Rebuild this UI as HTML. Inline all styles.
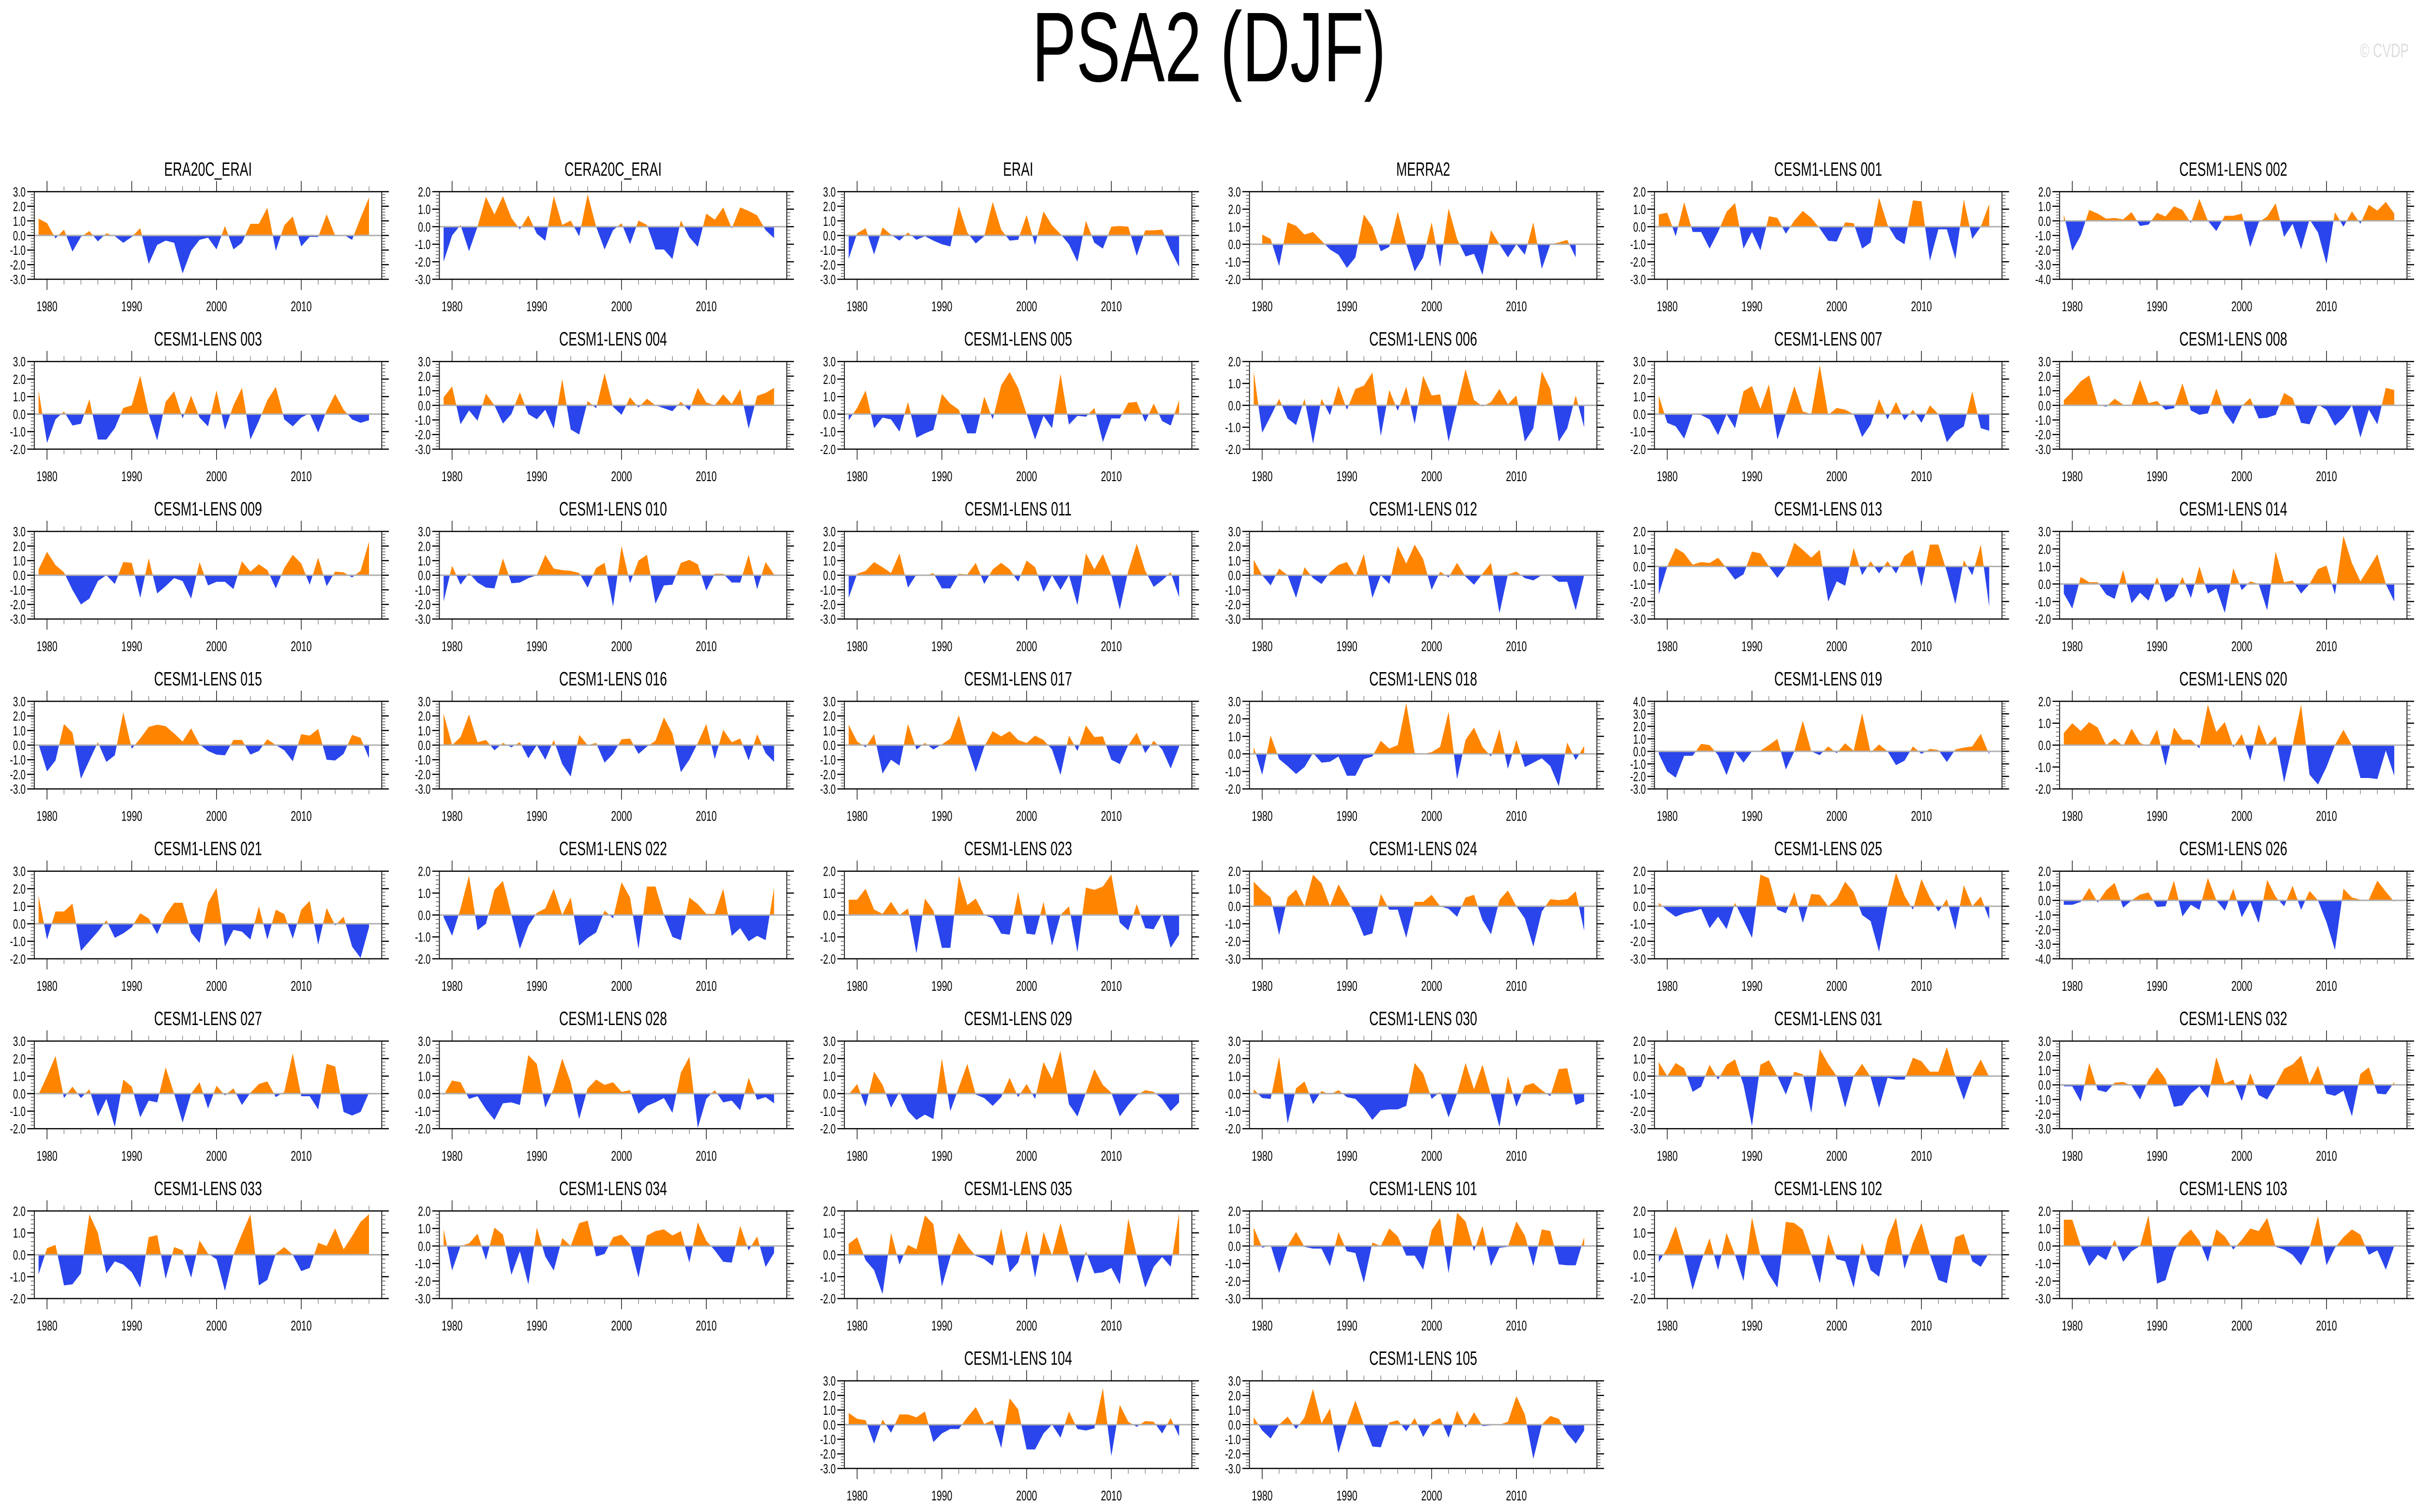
<!DOCTYPE html>
<html><head><meta charset="utf-8"><title>PSA2 (DJF)</title>
<style>
html,body{margin:0;padding:0;background:#fff;overflow:hidden;}
svg{display:block;font-family:"Liberation Sans",Arial,sans-serif;width:100vw;height:62.54vw;}
</style></head>
<body>
<svg id="chart" xmlns="http://www.w3.org/2000/svg" viewBox="0 0 7468 3124" preserveAspectRatio="none">
<rect x="0" y="0" width="7468" height="3124" fill="#fff"/>
<text x="3734" y="168" text-anchor="middle" font-size="205" fill="#000">PSA2 (DJF)</text>
<text x="7440" y="118" text-anchor="end" font-size="40" fill="#dddddd">© CVDP</text>
<g id="panels"></g>
</svg>
<script>
const panelTitles = ["ERA20C_ERAI","CERA20C_ERAI","ERAI","MERRA2","CESM1-LENS 001","CESM1-LENS 002",
"CESM1-LENS 003","CESM1-LENS 004","CESM1-LENS 005","CESM1-LENS 006","CESM1-LENS 007","CESM1-LENS 008",
"CESM1-LENS 009","CESM1-LENS 010","CESM1-LENS 011","CESM1-LENS 012","CESM1-LENS 013","CESM1-LENS 014",
"CESM1-LENS 015","CESM1-LENS 016","CESM1-LENS 017","CESM1-LENS 018","CESM1-LENS 019","CESM1-LENS 020",
"CESM1-LENS 021","CESM1-LENS 022","CESM1-LENS 023","CESM1-LENS 024","CESM1-LENS 025","CESM1-LENS 026",
"CESM1-LENS 027","CESM1-LENS 028","CESM1-LENS 029","CESM1-LENS 030","CESM1-LENS 031","CESM1-LENS 032",
"CESM1-LENS 033","CESM1-LENS 034","CESM1-LENS 035","CESM1-LENS 101","CESM1-LENS 102","CESM1-LENS 103",
"CESM1-LENS 104","CESM1-LENS 105"];
const yMins = [-3,-3,-3,-2,-3,-4, -2,-3,-2,-2,-2,-3, -3,-3,-3,-3,-3,-2, -3,-3,-3,-2,-3,-2, -2,-2,-2,-3,-3,-4, -2,-2,-2,-2,-3,-3, -2,-3,-2,-3,-2,-3, -3,-3];
const yMaxs = [3,2,3,3,2,2, 3,3,3,2,3,3, 3,3,3,3,2,3, 3,3,3,3,4,2, 3,2,2,2,2,2, 3,3,3,3,2,3, 2,2,2,2,2,2, 3,3];
const startYears = [1979,1979,1979,1980,1979,1979, 1979,1979,1979,1979,1979,1979, 1979,1979,1979,1979,1979,1979, 1979,1979,1979,1979,1979,1979, 1979,1979,1979,1979,1979,1979, 1979,1979,1979,1979,1979,1979, 1979,1979,1979,1979,1979,1979, 1979,1979];
const xTickYears = [1980,1990,2000,2010];

const vEra20c = [1.15,0.85,-0.2,0.4,-1.1,-0.1,0.3,-0.4,0.15,-0.05,-0.5,-0.1,0.5,-1.95,-0.65,-0.35,-0.5,-2.6,-1.05,-0.3,-0.15,-0.95,0.65,-0.95,-0.5,0.8,0.8,1.9,-1.05,0.7,1.3,-0.75,-0.1,-0.1,1.45,0.0,0.05,-0.3,1.2,2.6];
const vCera20c = [-2.0,-0.5,0.1,-1.4,0.0,1.7,0.7,1.75,0.5,-0.15,0.65,-0.4,-0.8,1.75,0.1,0.35,-0.55,1.85,0.0,-1.3,-0.2,0.2,-1.0,0.35,0.1,-1.3,-1.3,-1.85,0.35,-0.6,-1.15,0.75,0.4,1.1,-0.1,1.1,0.9,0.65,-0.2,-0.65];
const vErai = [-1.6,0.15,0.5,-1.3,0.55,0.05,-0.35,0.2,-0.3,-0.05,-0.35,-0.6,-0.75,2.0,0.2,-0.55,-0.05,2.3,0.4,-0.35,-0.3,1.4,-0.65,1.65,0.7,0.1,-0.6,-1.8,1.0,-0.5,-0.9,0.6,0.65,0.6,-1.4,0.35,0.35,0.4,-1.0,-2.15];
const vMerra2 = [0.55,0.3,-1.25,1.25,1.05,0.55,0.7,0.2,-0.3,-0.6,-1.35,-0.75,1.7,1.0,-0.4,-0.15,1.85,0.0,-1.55,-0.75,1.25,-1.3,2.05,0.3,-0.7,-0.55,-1.75,0.8,0.0,-0.75,0.0,-0.6,1.25,-1.4,0.0,0.1,0.25,-0.75];
const v001 = [0.7,0.8,-0.55,1.4,-0.3,-0.3,-1.25,-0.3,0.85,1.35,-1.25,-0.3,-1.35,0.6,0.5,-0.4,0.35,0.9,0.5,-0.1,-0.8,-0.85,0.25,0.2,-1.25,-0.9,1.65,0.1,-0.7,-1.0,1.5,1.45,-1.95,-0.15,-0.15,-1.85,1.55,-0.7,0.0,1.3];
const v002 = [0.45,-2.05,-1.0,0.75,0.5,0.15,0.2,0.1,0.6,-0.35,-0.25,0.55,0.3,1.0,0.75,-0.15,1.5,0.0,-0.7,0.35,0.35,0.5,-1.8,-0.1,0.3,1.2,-1.1,-0.2,-1.95,0.1,-0.8,-2.95,0.6,-0.4,0.65,-0.2,1.1,0.7,1.3,0.5];
const v003 = [1.35,-1.65,-0.3,0.15,-0.65,-0.55,0.85,-1.45,-1.45,-0.8,0.35,0.5,2.2,0.0,-1.5,0.7,1.3,-0.25,1.05,-0.2,-0.7,1.35,-0.9,0.5,1.5,-1.45,-0.4,0.8,1.55,-0.3,-0.7,-0.2,0.05,-1.05,0.2,1.15,0.25,-0.3,-0.5,-0.35];
const v004 = [0.55,1.3,-1.3,-0.35,-1.05,0.8,0.0,-1.25,-0.6,0.9,-0.6,-0.95,-0.3,-1.6,1.8,-1.65,-2.0,0.3,-0.2,2.2,-0.1,-0.65,0.55,-0.15,0.45,0.0,-0.2,-0.4,0.25,-0.35,1.2,0.2,0.0,0.75,0.1,1.1,-1.6,0.65,0.85,1.2];
const v005 = [-0.35,0.35,1.35,-0.8,-0.2,-0.3,-1.0,0.7,-1.35,-1.1,-0.9,1.15,0.6,0.25,-1.1,-1.1,1.0,-0.3,1.65,2.4,1.5,0.0,-1.45,-0.1,-0.8,2.3,-0.6,-0.1,-0.15,0.35,-1.6,-0.25,-0.25,0.65,0.7,-0.45,0.6,-0.4,-0.65,0.8];
const v006 = [1.55,-1.25,-0.5,0.3,-0.6,-0.9,0.3,-1.75,0.3,-0.45,0.9,-0.2,0.75,0.9,1.5,-1.4,0.7,-0.25,0.85,-0.85,1.35,0.45,0.5,-1.65,0.0,1.65,0.25,-0.05,0.15,0.75,0.05,0.45,-1.65,-1.05,1.55,0.75,-1.65,-1.05,0.45,-1.0];
const v007 = [1.05,-0.5,-0.7,-1.4,0.0,-0.05,-0.3,-1.2,0.0,-0.8,1.3,1.6,0.3,1.7,-1.45,0.0,1.6,0.15,0.0,2.8,-0.05,0.35,0.25,0.0,-1.3,-0.6,0.85,-0.3,0.7,-0.35,0.25,-0.5,0.5,0.0,-1.6,-1.0,-0.7,1.3,-0.8,-0.95];
const v008 = [0.35,0.95,1.65,2.05,0.05,-0.1,0.45,0.05,0.05,1.75,0.15,0.3,-0.3,-0.2,1.5,-0.35,-0.65,-0.55,1.15,-0.5,-1.3,-0.05,0.5,-0.9,-0.85,-0.65,0.85,0.5,-1.2,-1.3,0.05,-0.3,-1.4,-0.85,0.0,-2.2,-0.3,-1.3,1.2,1.05];
const v009 = [0.4,1.6,0.7,0.2,-1.0,-2.0,-1.6,-0.4,0.0,-0.6,0.9,0.85,-1.55,1.15,-1.25,-0.75,-0.2,-0.4,-1.6,0.9,-0.7,-0.45,-0.45,-0.95,0.95,0.25,0.75,0.35,-0.9,0.5,1.4,0.8,-0.65,1.2,-0.75,0.25,0.2,-0.15,0.3,2.3];
const v010 = [-1.8,0.65,-0.65,0.15,-0.5,-0.85,-0.9,1.15,-0.55,-0.5,-0.2,0.0,1.4,0.45,0.35,0.3,0.15,-0.85,0.5,0.85,-2.15,2.0,-0.55,1.0,1.4,-1.95,-0.7,-0.65,0.85,1.05,0.75,-1.05,0.1,0.1,-0.5,-0.5,1.4,-0.95,0.9,0.05];
const v011 = [-1.55,0.1,0.3,0.9,0.55,0.15,1.5,-0.85,0.05,-0.05,0.15,-0.9,-0.9,0.1,0.05,0.85,-0.6,0.4,0.85,0.4,-0.45,1.0,0.55,-1.15,0.0,-1.0,0.0,-2.05,1.5,0.4,1.45,0.0,-2.35,0.3,2.15,0.3,-0.8,-0.35,0.2,-1.5];
const v012 = [1.05,0.0,-0.7,0.45,0.0,-1.55,0.55,-0.2,-0.6,0.2,0.7,0.9,-0.1,1.45,-1.55,0.0,-0.6,2.0,0.8,2.1,1.1,-1.0,0.25,-0.15,0.85,-0.1,-0.65,0.1,0.85,-2.6,0.05,0.25,-0.2,-0.35,0.0,0.0,-0.45,-0.45,-2.4,0.0];
const v013 = [-1.6,0.0,1.05,0.75,0.1,0.25,0.2,0.5,-0.1,-0.75,-0.45,0.85,0.75,0.0,-0.65,0.0,1.35,0.95,0.5,0.95,-2.0,-0.85,-1.1,1.05,-0.5,0.3,-0.4,0.3,-0.4,0.6,0.95,-1.15,1.25,1.25,-0.3,-2.15,0.35,-0.5,1.25,-2.3];
const v014 = [-0.55,-1.4,0.4,0.1,0.1,-0.6,-0.85,0.8,-1.1,-0.5,-0.95,0.4,-1.05,-0.7,0.4,-0.8,1.0,-0.55,-0.25,-1.65,0.9,-0.35,0.15,0.0,-1.5,1.85,0.1,0.2,-0.55,0.0,0.85,1.05,-0.6,2.75,1.2,0.15,0.9,1.7,0.0,-1.0];
const v015 = [0.05,-1.8,-1.05,1.45,0.85,-2.3,-1.05,0.2,-1.15,-0.7,2.25,-0.25,0.45,1.25,1.4,1.3,0.8,0.25,1.15,0.05,-0.4,-0.65,-0.7,0.35,0.35,-0.65,-0.4,0.4,0.0,-0.35,-1.1,0.75,0.65,1.1,-1.0,-1.05,-0.6,0.7,0.5,-0.9];
const v016 = [2.15,0.0,0.55,2.1,0.2,0.35,-0.35,0.15,-0.15,0.2,-0.9,0.0,-1.0,0.35,-1.3,-2.15,0.7,0.0,0.15,-1.2,-0.6,0.4,0.45,-0.6,-0.1,0.3,1.9,0.8,-1.85,-1.0,0.15,1.45,-0.95,1.05,0.2,0.45,-1.05,0.75,-0.55,-1.15];
const v017 = [1.4,0.25,-0.15,0.75,-1.95,-1.0,-1.4,1.45,-0.3,0.15,-0.3,0.05,0.45,2.05,-0.1,-1.85,-0.1,0.95,0.6,0.95,0.35,0.15,0.65,0.35,-0.3,-2.05,0.65,-0.4,1.35,0.55,0.6,-1.0,-1.3,0.0,0.85,-0.55,0.3,-0.3,-1.6,-0.1];
const v018 = [0.4,-1.2,1.05,-0.3,-0.7,-1.15,-0.75,0.05,-0.5,-0.45,-0.15,-1.25,-1.25,-0.3,-0.15,0.75,0.3,0.5,2.9,0.05,0.0,0.1,0.4,2.4,-1.45,0.8,1.5,0.4,-0.15,1.4,-0.85,0.8,-0.75,-0.5,-0.25,-0.7,-1.85,0.65,-0.35,0.45];
const v019 = [-0.2,-1.6,-2.1,-0.35,-0.35,0.6,0.5,-0.3,-1.9,0.0,-0.9,0.0,0.05,0.5,1.0,-1.45,0.0,2.45,0.0,-0.3,0.4,-0.15,0.65,0.05,3.05,-0.1,0.55,0.0,-1.1,-0.75,0.4,-0.2,0.2,0.1,-0.85,0.15,0.3,0.4,1.4,-0.25];
const v020 = [0.55,1.0,0.65,1.05,0.8,0.0,0.3,-0.05,0.75,0.1,-0.05,0.7,-0.95,0.8,0.25,0.25,-0.15,1.85,0.6,1.05,-0.1,0.5,-0.7,0.95,0.0,0.4,-1.7,0.0,1.85,-1.35,-1.8,-1.0,0.0,0.7,0.0,-1.5,-1.5,-1.55,-0.25,-1.4];
const v021 = [1.6,-0.9,0.7,0.7,1.15,-1.55,-1.0,-0.45,0.2,-0.8,-0.55,-0.2,0.6,0.3,-0.6,0.5,1.2,1.2,-0.5,-1.1,1.2,2.05,-1.3,-0.35,-0.45,-0.9,1.0,-0.9,0.8,0.55,-0.85,0.8,1.3,-1.2,0.9,-0.1,0.4,-1.3,-1.95,-0.2];
const v022 = [-0.1,-0.95,0.3,1.8,-0.7,-0.4,1.15,1.55,0.0,-1.55,-0.5,0.1,0.3,1.2,0.0,0.8,-1.4,-1.05,-0.8,0.2,-0.15,1.5,0.8,-1.55,1.3,1.3,0.0,-1.0,-1.15,0.8,0.5,0.05,0.05,1.2,-0.95,-0.6,-1.2,-0.95,-1.15,1.25];
const v023 = [0.7,0.7,1.2,0.25,0.05,0.6,0.0,0.3,-1.75,0.75,0.2,-1.5,-1.5,1.8,0.45,0.75,0.0,-0.15,-0.85,-0.9,1.05,-0.85,-0.9,0.6,-1.4,0.0,0.4,-1.7,1.25,1.15,1.3,1.85,-0.35,-0.7,0.5,-0.6,-0.65,0.05,-1.5,-0.9];
const v024 = [1.4,0.9,0.5,-1.65,0.5,0.95,0.0,1.8,1.3,0.0,1.25,0.4,-0.5,-1.7,-1.55,0.7,-0.2,-0.2,-1.8,0.25,0.25,0.65,0.0,-0.15,-0.6,0.5,0.65,-0.8,-1.6,0.35,0.9,0.0,-0.7,-2.3,-0.3,0.4,0.35,0.4,0.85,-1.4];
const v025 = [0.2,-0.25,-0.6,-0.4,-0.3,-0.15,-1.25,-0.6,-1.3,0.2,-0.8,-1.8,1.8,1.6,-0.2,-0.4,0.8,-0.95,0.7,0.65,0.0,0.45,1.4,0.8,-0.5,-0.85,-2.6,0.0,1.9,0.6,-0.2,1.55,0.5,-0.3,0.4,-1.35,1.2,0.0,0.55,-0.75];
const v026 = [-0.3,-0.3,-0.1,0.85,-0.15,0.7,1.2,-0.5,0.0,0.4,0.55,-0.45,-0.4,1.35,-1.1,-0.3,-0.65,1.55,0.0,-0.7,0.8,-1.15,-0.1,-1.55,1.4,0.25,-0.4,1.0,-0.65,0.65,0.0,-1.5,-3.4,0.8,0.2,0.05,0.05,1.35,0.6,-0.1];
const v027 = [-0.05,1.0,2.15,-0.25,0.4,-0.25,0.25,-1.3,-0.3,-1.9,0.8,0.4,-1.35,-0.4,-0.5,1.5,0.0,-1.65,0.0,0.65,-0.85,0.45,-0.1,0.3,-0.65,0.05,0.55,0.7,-0.2,0.1,2.3,-0.15,-0.15,-0.9,1.7,1.55,-1.05,-1.25,-1.05,0.05];
const v028 = [-0.1,0.75,0.65,-0.3,-0.15,-0.9,-1.5,-0.55,-0.5,-0.65,2.2,1.7,-0.8,0.3,2.0,0.65,-1.45,0.3,0.8,0.5,0.65,0.1,0.2,-1.15,-0.7,-0.5,-0.25,-1.1,1.2,2.1,-1.95,-0.3,0.2,-0.5,-0.4,-0.95,0.9,-0.35,-0.2,-0.55];
const v029 = [-0.05,0.55,-0.75,1.25,0.5,-0.8,0.1,-1.0,-1.5,-1.2,-1.45,2.0,-1.0,0.35,1.7,-0.05,-0.25,-0.7,-0.2,0.9,-0.2,0.55,-0.3,1.8,0.85,2.45,-0.6,-1.3,0.05,1.4,0.5,0.05,-1.3,-0.65,-0.1,0.2,0.1,-0.3,-1.0,-0.5];
const v030 = [0.25,-0.25,-0.3,2.1,-1.7,0.3,0.7,-0.6,0.15,-0.05,0.2,-0.2,-0.3,-0.8,-1.5,-0.95,-0.9,-0.9,-0.7,1.75,1.15,-0.3,0.1,-1.35,0.0,1.75,0.25,1.65,-0.1,-1.9,1.0,-0.75,0.45,0.6,0.2,-0.15,1.4,1.45,-0.65,-0.45];
const v031 = [0.8,0.0,0.75,0.45,-0.9,-0.6,0.65,-0.2,0.65,0.95,-0.5,-2.85,0.65,0.9,0.0,-1.05,0.25,0.1,-2.1,1.55,0.7,0.0,-1.8,0.0,0.7,-0.05,-1.8,-0.1,-0.2,-0.2,1.05,0.85,0.25,0.25,1.65,0.0,-1.35,0.05,0.95,-0.05];
const v032 = [-0.1,-0.1,-1.15,1.5,-0.35,-0.5,0.15,0.2,-0.05,-1.0,0.35,1.2,0.4,-1.5,-1.4,-0.6,-0.1,-0.9,1.9,0.1,0.35,-1.1,0.8,-0.7,-1.0,0.0,1.1,1.4,2.0,0.1,1.3,-0.6,-0.75,-0.4,-2.15,0.75,1.2,-0.6,-0.65,0.2];
const v033 = [-0.9,0.3,0.45,-1.4,-1.35,-0.85,1.85,1.0,-0.85,-0.3,-0.45,-0.8,-1.5,0.8,0.9,-1.1,0.35,0.2,-1.05,0.65,0.05,-0.2,-1.65,0.0,0.95,1.85,-1.4,-1.15,0.05,0.35,0.0,-0.75,-0.6,0.55,0.4,1.2,0.25,0.85,1.5,1.85];
const v034 = [0.95,-1.4,0.0,0.15,0.7,-0.8,1.05,0.65,-1.65,-0.3,-2.2,1.05,-0.6,-1.4,0.45,0.0,1.3,1.45,-0.6,-0.45,0.5,0.65,0.1,-1.8,0.6,0.85,0.95,0.6,0.85,-0.95,1.35,0.3,-0.25,-0.9,-0.95,1.15,-0.25,0.55,-1.2,-0.4];
const v035 = [0.5,0.8,-0.25,-0.7,-1.8,1.0,-0.45,0.45,0.25,1.8,1.4,-1.45,-0.1,1.0,0.4,-0.05,-0.2,-0.5,1.2,-0.8,-0.35,1.1,-1.05,1.05,-0.05,1.45,0.0,-1.3,0.15,-0.85,-0.8,-0.6,-1.35,1.65,-0.05,-1.5,-0.55,-0.1,-0.55,1.9];
const v101 = [1.05,-0.1,0.05,-1.55,0.0,0.8,-0.05,-0.15,-0.15,-1.15,0.8,-0.3,-0.4,-2.1,0.2,0.0,1.0,0.55,-0.55,-0.55,-1.35,0.9,1.6,-1.55,1.9,1.4,-0.3,1.15,-1.15,-0.1,-0.05,1.4,0.6,-1.15,0.95,0.85,-1.05,-1.1,-1.1,0.5];
const v102 = [-0.35,0.3,1.3,0.0,-1.6,-0.3,0.75,-0.7,1.0,0.0,-1.2,1.7,-0.05,-0.9,-1.5,1.5,1.45,1.15,0.0,-1.3,0.95,-0.2,-0.3,-1.5,0.55,-0.7,-1.0,0.75,1.7,-0.65,0.55,1.45,0.0,-1.15,-1.3,0.8,0.95,-0.3,-0.55,0.1];
const v103 = [1.5,1.5,0.0,-1.15,-0.5,-0.8,0.35,-0.9,-0.3,0.0,1.75,-2.15,-1.95,-0.3,0.5,0.95,0.3,-0.9,0.95,0.55,-0.2,0.35,1.0,0.85,1.6,-0.05,-0.2,-0.5,-1.1,-0.1,1.7,-1.1,-0.1,0.5,0.95,0.65,-0.5,-0.25,-1.35,0.0];
const v104 = [0.8,0.4,0.3,-1.3,0.35,-0.55,0.7,0.7,0.5,0.9,-1.2,-0.6,-0.3,-0.3,0.5,1.2,0.05,0.3,-1.6,1.8,1.05,-1.7,-1.7,-0.6,0.0,-0.9,0.9,-0.3,-0.4,-0.25,2.5,-2.15,1.35,0.2,-0.15,0.25,0.2,-0.6,0.45,-0.8];
const v105 = [0.5,-0.4,-0.95,0.0,0.55,-0.3,0.5,2.45,0.1,1.1,-1.95,0.0,1.65,0.0,-1.5,-1.55,0.15,0.3,-0.45,0.45,-0.85,0.15,0.45,-0.9,0.95,-0.2,0.85,-0.1,-0.05,0.0,0.2,1.95,0.7,-2.35,0.0,0.6,0.4,-0.6,-1.3,-0.4];

const seriesList = [vEra20c,vCera20c,vErai,vMerra2,v001,v002,v003,v004,v005,v006,v007,v008,v009,v010,v011,v012,v013,v014,v015,v016,v017,v018,v019,v020,v021,v022,v023,v024,v025,v026,v027,v028,v029,v030,v031,v032,v033,v034,v035,v101,v102,v103,v104,v105];

const NS = "http://www.w3.org/2000/svg";
const root = document.getElementById("panels");
const BOX_W = 1073, BOX_H = 181, X0 = 106, Y0 = 396, COL_P = 1251, ROW_P = 351;
const XMIN = 1978.5, XMAX = 2019.5;
const ORANGE = "#ff8500", BLUE = "#2a45ec";

function mk(tag, attrs, parent) {
  const e = document.createElementNS(NS, tag);
  for (const k in attrs) e.setAttribute(k, attrs[k]);
  parent.appendChild(e);
  return e;
}

function drawPanel(i, col, row) {
  const bx = X0 + COL_P * col, by = Y0 + ROW_P * row;
  const lo = yMins[i], hi = yMaxs[i];
  const xs = yr => bx + (yr - XMIN) / (XMAX - XMIN) * BOX_W;
  const ys = v => by + (hi - v) / (hi - lo) * BOX_H;
  const g = mk("g", {}, root);
  
  

  const t = mk("text", {x: bx + BOX_W / 2, y: by - 33, "text-anchor": "middle", "font-size": 40, fill: "#000"}, g);
  t.textContent = panelTitles[i];
  
  

  const vals = seriesList[i], sy = startYears[i];
  const zy = ys(0);
  let d = "M" + xs(sy).toFixed(1) + "," + zy.toFixed(1);
  vals.forEach((v, k) => { d += " L" + xs(sy + k).toFixed(1) + "," + ys(v).toFixed(1); });
  d += " L" + xs(sy + vals.length - 1).toFixed(1) + "," + zy.toFixed(1) + " Z";
  const cidA = "ca" + i, cidB = "cb" + i;
  const defs = mk("defs", {}, g);
  const cpA = mk("clipPath", {id: cidA}, defs);
  mk("rect", {x: bx, y: by, width: BOX_W, height: zy - by}, cpA);
  const cpB = mk("clipPath", {id: cidB}, defs);
  mk("rect", {x: bx, y: zy, width: BOX_W, height: by + BOX_H - zy}, cpB);
  const pa = mk("path", {d: d, fill: ORANGE, "clip-path": "url(#" + cidA + ")"}, g);
  
  
  const pb = mk("path", {d: d, fill: BLUE, "clip-path": "url(#" + cidB + ")"}, g);
  
  

  const zl = mk("line", {x1: bx, x2: bx + BOX_W, y1: zy, y2: zy, stroke: "#b0b0b0", "stroke-width": 3}, g);
  
  

  const box = mk("rect", {x: bx, y: by, width: BOX_W, height: BOX_H, fill: "none", stroke: "#000", "stroke-width": 2.5}, g);
  
  

  for (let v = lo; v <= hi + 1e-9; v += 1) {
    const y = ys(v);
    mk("line", {x1: bx - 22, x2: bx, y1: y, y2: y, stroke: "#000", "stroke-width": 2.5}, g);
    mk("line", {x1: bx + BOX_W, x2: bx + BOX_W + 22, y1: y, y2: y, stroke: "#000", "stroke-width": 2.5}, g);
    const lb = mk("text", {x: bx - 27, y: y + 10, "text-anchor": "end", "font-size": 28, fill: "#000"}, g);
    lb.textContent = v.toFixed(1);
    
    
    if (v < hi) {
      for (let m = 1; m < 5; m++) {
        const ym = ys(v + m * 0.2);
        mk("line", {x1: bx - 11, x2: bx, y1: ym, y2: ym, stroke: "#555", "stroke-width": 1.5}, g);
        mk("line", {x1: bx + BOX_W, x2: bx + BOX_W + 11, y1: ym, y2: ym, stroke: "#555", "stroke-width": 1.5}, g);
      }
    }
  }
  for (let yr = 1980; yr <= 2018; yr += 2) {
    const x = xs(yr);
    const major = (yr % 10 === 0);
    const L = major ? 22 : 11;
    mk("line", {x1: x, x2: x, y1: by - L, y2: by, stroke: major ? "#000" : "#555", "stroke-width": major ? 2 : 1.5}, g);
    mk("line", {x1: x, x2: x, y1: by + BOX_H, y2: by + BOX_H + L, stroke: major ? "#000" : "#555", "stroke-width": major ? 2 : 1.5}, g);
  }
  xTickYears.forEach(yr => {
    const xl = mk("text", {x: xs(yr), y: by + BOX_H + 66, "text-anchor": "middle", "font-size": 29, fill: "#000"}, g);
    xl.textContent = String(yr);
    
    
  });
}

for (let i = 0; i < 42; i++) drawPanel(i, i % 6, Math.floor(i / 6));
drawPanel(42, 2, 7);
drawPanel(43, 3, 7);
</script>
</body></html>
